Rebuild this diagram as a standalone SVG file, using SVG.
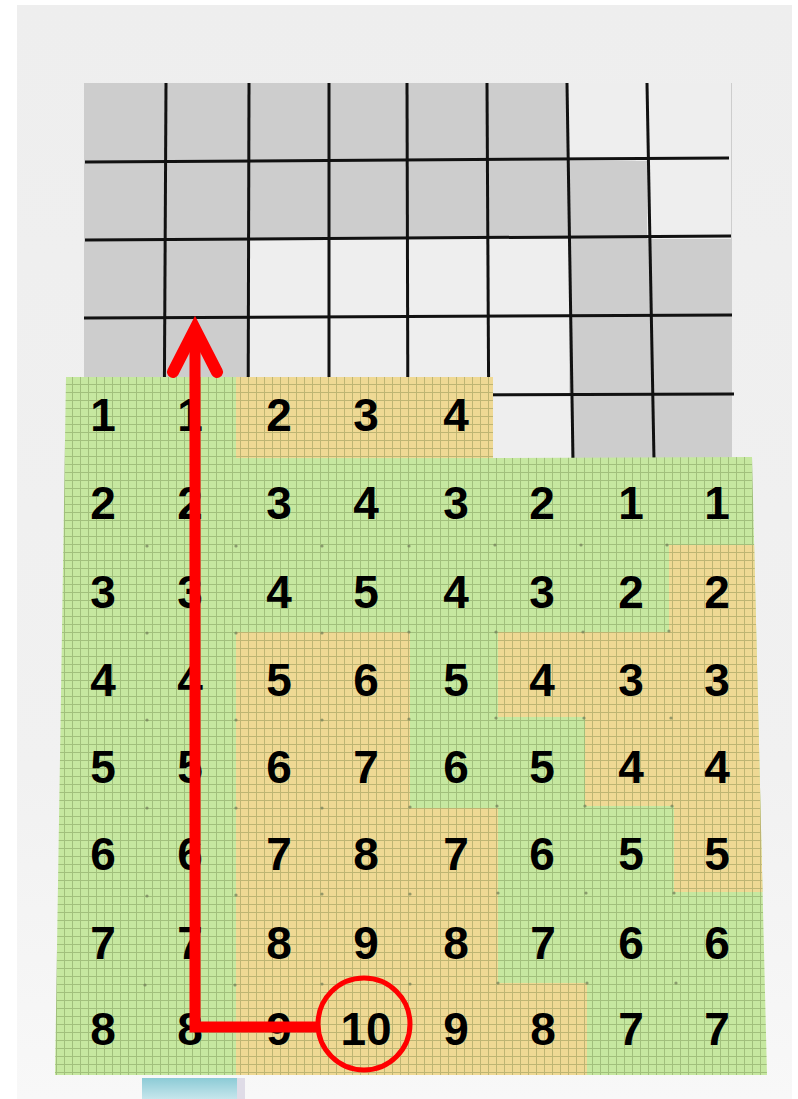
<svg xmlns="http://www.w3.org/2000/svg" width="798" height="1099" viewBox="0 0 798 1099">
  <style>
    .gl { stroke: #111; stroke-width: 3; fill: none; }
    .gy { fill: #cdcdcd; }
    .wh { fill: #eeeeee; }
    .num { font-family: "Liberation Sans", Arial, sans-serif; font-weight: bold; font-size: 46px; fill: #000; text-anchor: middle; }
    .red { stroke: #ff0000; fill: none; }
    .dot { fill: #6f7a55; opacity: 0.7; }
  </style>
  <defs>
    <pattern id="tex" width="8" height="8" patternUnits="userSpaceOnUse">
      <path d="M0,0.5 H8 M0.5,0 V8" stroke="#4a6325" stroke-width="1" opacity="0.3"/>
    </pattern>
    <clipPath id="matClip">
      <polygon points="66,377 493,377 493,458 752,457 767,1075 55,1075"/>
    </clipPath>
    <linearGradient id="blue" x1="0" y1="0" x2="0" y2="1">
      <stop offset="0" stop-color="#8ccbd6"/>
      <stop offset="1" stop-color="#c6e6ec"/>
    </linearGradient>
    <linearGradient id="bg" x1="0" y1="0" x2="0" y2="1">
      <stop offset="0" stop-color="#eeeeee"/>
      <stop offset="0.7" stop-color="#f1f1f1"/>
      <stop offset="1" stop-color="#f8f8f8"/>
    </linearGradient>
  </defs>

  <!-- background -->
  <g id="background">
    <rect x="0" y="0" width="798" height="1099" fill="#ffffff"/>
    <rect x="17" y="5" width="775" height="1094" fill="url(#bg)"/>
  </g>

  <!-- top grey/white grid -->
  <g id="top-grid">
    <rect x="84" y="83" width="648" height="378" class="gy"/>
    <rect x="567" y="83" width="164" height="78" class="wh"/>
    <rect x="647" y="161" width="84" height="78" class="wh"/>
    <rect x="249" y="239" width="320" height="158" class="wh"/>
    <rect x="487" y="396" width="84" height="65" class="wh"/>
    <g class="gl">
      <line x1="85" y1="162" x2="729" y2="158"/>
      <line x1="85" y1="240" x2="731" y2="236"/>
      <line x1="84" y1="318" x2="732" y2="315"/>
      <line x1="84" y1="396" x2="734" y2="394"/>
      <line x1="166" y1="83" x2="164" y2="460"/>
      <line x1="249" y1="83" x2="248" y2="460"/>
      <line x1="329" y1="83" x2="329" y2="460"/>
      <line x1="407" y1="83" x2="408" y2="460"/>
      <line x1="487" y1="83" x2="489" y2="460"/>
      <line x1="567" y1="83" x2="573" y2="460"/>
      <line x1="647" y1="83" x2="654" y2="460"/>
    </g>
  </g>

  <!-- mat -->
  <g id="mat">
    <g clip-path="url(#matClip)">
      <rect x="40" y="370" width="740" height="710" fill="#c6e8a0"/>
      <g fill="#efd994">
        <rect x="236" y="370" width="260" height="88"/>
        <polygon points="236,632 410,632 410,808 498,808 498,983 587,983 587,1080 236,1080"/>
        <polygon points="669,545 780,545 780,892 674,892 674,806 585,806 585,717 498,717 498,632 669,632"/>
      </g>
      <rect x="40" y="370" width="740" height="710" fill="url(#tex)"/>
    </g>
    <g id="mat-dots">
      <circle class="dot" cx="147" cy="546" r="1.6"/><circle class="dot" cx="236" cy="546" r="1.6"/><circle class="dot" cx="322" cy="546" r="1.6"/><circle class="dot" cx="409" cy="546" r="1.6"/><circle class="dot" cx="495" cy="545" r="1.6"/><circle class="dot" cx="581" cy="545" r="1.6"/><circle class="dot" cx="667" cy="545" r="1.6"/>
      <circle class="dot" cx="147" cy="633" r="1.6"/><circle class="dot" cx="236" cy="633" r="1.6"/><circle class="dot" cx="322" cy="633" r="1.6"/><circle class="dot" cx="409" cy="632" r="1.6"/><circle class="dot" cx="496" cy="632" r="1.6"/><circle class="dot" cx="583" cy="632" r="1.6"/><circle class="dot" cx="669" cy="631" r="1.6"/>
      <circle class="dot" cx="147" cy="720" r="1.6"/><circle class="dot" cx="236" cy="720" r="1.6"/><circle class="dot" cx="322" cy="720" r="1.6"/><circle class="dot" cx="409" cy="719" r="1.6"/><circle class="dot" cx="496" cy="718" r="1.6"/><circle class="dot" cx="584" cy="718" r="1.6"/><circle class="dot" cx="671" cy="718" r="1.6"/>
      <circle class="dot" cx="147" cy="808" r="1.6"/><circle class="dot" cx="236" cy="808" r="1.6"/><circle class="dot" cx="322" cy="808" r="1.6"/><circle class="dot" cx="410" cy="807" r="1.6"/><circle class="dot" cx="497" cy="806" r="1.6"/><circle class="dot" cx="585" cy="806" r="1.6"/><circle class="dot" cx="672" cy="806" r="1.6"/>
      <circle class="dot" cx="147" cy="896" r="1.6"/><circle class="dot" cx="236" cy="895" r="1.6"/><circle class="dot" cx="322" cy="894" r="1.6"/><circle class="dot" cx="410" cy="894" r="1.6"/><circle class="dot" cx="498" cy="893" r="1.6"/><circle class="dot" cx="586" cy="893" r="1.6"/><circle class="dot" cx="674" cy="893" r="1.6"/>
      <circle class="dot" cx="145" cy="985" r="1.6"/><circle class="dot" cx="235" cy="985" r="1.6"/><circle class="dot" cx="322" cy="984" r="1.6"/><circle class="dot" cx="410" cy="984" r="1.6"/><circle class="dot" cx="498" cy="983" r="1.6"/><circle class="dot" cx="587" cy="983" r="1.6"/><circle class="dot" cx="676" cy="983" r="1.6"/>
    </g>
  </g>

  <!-- numbers -->
  <g id="numbers" class="num">
    <g id="row0"><text x="103" y="431">1</text><text x="190" y="431">1</text><text x="279" y="431">2</text><text x="366" y="431">3</text><text x="456" y="431">4</text></g>
    <g id="row1"><text x="103" y="519">2</text><text x="190" y="519">2</text><text x="279" y="519">3</text><text x="366" y="519">4</text><text x="456" y="519">3</text><text x="542" y="519">2</text><text x="631" y="519">1</text><text x="717" y="519">1</text></g>
    <g id="row2"><text x="103" y="608">3</text><text x="190" y="608">3</text><text x="279" y="608">4</text><text x="366" y="608">5</text><text x="456" y="608">4</text><text x="542" y="608">3</text><text x="631" y="608">2</text><text x="717" y="608">2</text></g>
    <g id="row3"><text x="103" y="696">4</text><text x="190" y="696">4</text><text x="279" y="696">5</text><text x="366" y="696">6</text><text x="456" y="696">5</text><text x="542" y="696">4</text><text x="631" y="696">3</text><text x="717" y="696">3</text></g>
    <g id="row4"><text x="103" y="783">5</text><text x="190" y="783">5</text><text x="279" y="783">6</text><text x="366" y="783">7</text><text x="456" y="783">6</text><text x="542" y="783">5</text><text x="631" y="783">4</text><text x="717" y="783">4</text></g>
    <g id="row5"><text x="103" y="870">6</text><text x="190" y="870">6</text><text x="279" y="870">7</text><text x="366" y="870">8</text><text x="456" y="870">7</text><text x="542" y="870">6</text><text x="631" y="870">5</text><text x="717" y="870">5</text></g>
    <g id="row6"><text x="103" y="959">7</text><text x="190" y="959">7</text><text x="279" y="959">8</text><text x="366" y="959">9</text><text x="456" y="959">8</text><text x="543" y="959">7</text><text x="631" y="959">6</text><text x="717" y="959">6</text></g>
    <g id="row7"><text x="103" y="1045">8</text><text x="190" y="1045">8</text><text x="279" y="1045">9</text><text x="366" y="1045">10</text><text x="456" y="1045">9</text><text x="543" y="1045">8</text><text x="631" y="1045">7</text><text x="717" y="1045">7</text></g>
  </g>

  <!-- blue strip at bottom -->
  <g id="tab">
    <rect x="142" y="1078" width="95" height="21" fill="url(#blue)"/>
    <rect x="237" y="1078" width="8" height="21" fill="#d4d0e0" opacity="0.7"/>
  </g>

  <!-- target circle -->
  <g id="target">
    <circle cx="364" cy="1024" r="46" class="red" stroke-width="5"/>
  </g>

  <!-- connectors -->
  <g id="connectors">
    <path d="M318,1027 H195 V340" class="red" stroke-width="11" stroke-linejoin="miter"/>
    <polyline points="173,372 195,329 217,372" class="red" stroke-width="12" stroke-linecap="round" stroke-linejoin="miter"/>
  </g>
</svg>
